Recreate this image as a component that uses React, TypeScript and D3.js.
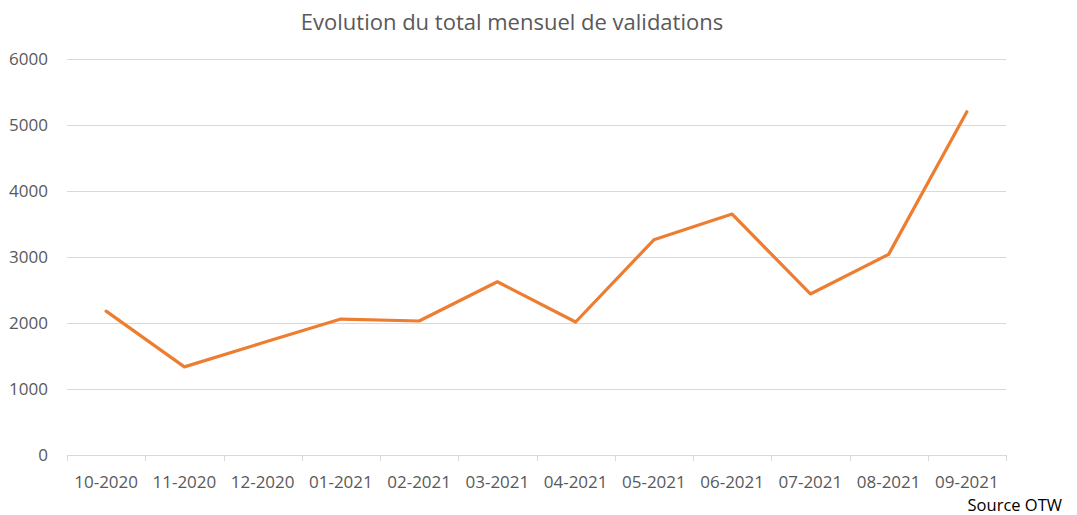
import { useEffect, useRef } from 'react'
import * as d3 from 'd3'

const months = ['10-2020', '11-2020', '12-2020', '01-2021', '02-2021', '03-2021', '04-2021', '05-2021', '06-2021', '07-2021', '08-2021', '09-2021']
const validations = [2180, 1335, 1700, 2060, 2030, 2625, 2015, 3260, 3650, 2440, 3040, 5200]
const yTicks = [0, 1000, 2000, 3000, 4000, 5000, 6000]

export default function App() {
  const ref = useRef<SVGSVGElement>(null)

  useEffect(() => {
    if (!ref.current) return
    const svg = d3.select(ref.current)
    svg.selectAll('*').remove()

    const left = 67
    const right = 1006
    const top = 59
    const bottom = 455
    const font = '"Open Sans", "Noto Sans", sans-serif'
    const grey = '#595959'

    const x = d3.scaleBand<string>().domain(months).range([left, right])
    const y = d3.scaleLinear().domain([0, 6000]).range([bottom, top])

    svg.append('rect').attr('width', 1077).attr('height', 515).attr('fill', '#fff')

    svg.append('text')
      .attr('x', 512).attr('y', 30)
      .attr('text-anchor', 'middle')
      .style('font-family', font).style('font-size', '22px')
      .attr('fill', grey)
      .text('Evolution du total mensuel de validations')

    // grid
    svg.append('g').selectAll('line')
      .data(yTicks)
      .enter().append('line')
      .attr('x1', left).attr('x2', right)
      .attr('y1', d => y(d) + 0.5).attr('y2', d => y(d) + 0.5)
      .attr('stroke', '#d9d9d9').attr('stroke-width', 1)

    svg.append('g').selectAll('text')
      .data(yTicks)
      .enter().append('text')
      .attr('x', 48).attr('y', d => y(d))
      .attr('dy', '0.35em')
      .attr('text-anchor', 'end')
      .style('font-family', font).style('font-size', '17px')
      .attr('fill', grey)
      .text(d => d)

    // category tick marks
    const bounds = [...months.map(m => x(m) as number), right]
    svg.append('g').selectAll('line')
      .data(bounds)
      .enter().append('line')
      .attr('x1', d => Math.round(d) + 0.5).attr('x2', d => Math.round(d) + 0.5)
      .attr('y1', bottom).attr('y2', bottom + 6)
      .attr('stroke', '#d9d9d9')

    svg.append('g').selectAll('text')
      .data(months)
      .enter().append('text')
      .attr('x', d => (x(d) as number) + x.bandwidth() / 2)
      .attr('y', 488)
      .attr('text-anchor', 'middle')
      .style('font-family', font).style('font-size', '17px')
      .attr('fill', grey)
      .text(d => d)

    const line = d3.line<number>()
      .x((_, i) => (x(months[i]) as number) + x.bandwidth() / 2)
      .y(d => y(d))

    svg.append('path')
      .datum(validations)
      .attr('d', line)
      .attr('fill', 'none')
      .attr('stroke', '#ED7D31')
      .attr('stroke-width', 3.2)
      .attr('stroke-linejoin', 'round')
      .attr('stroke-linecap', 'round')

    svg.append('text')
      .attr('x', 1062).attr('y', 511)
      .attr('text-anchor', 'end')
      .style('font-family', font).style('font-size', '16.5px')
      .attr('fill', '#000')
      .text('Source OTW')
  }, [])

  return <svg ref={ref} width="1077" height="515" style={{ position: 'absolute', left: 0, top: 0 }}></svg>
}
